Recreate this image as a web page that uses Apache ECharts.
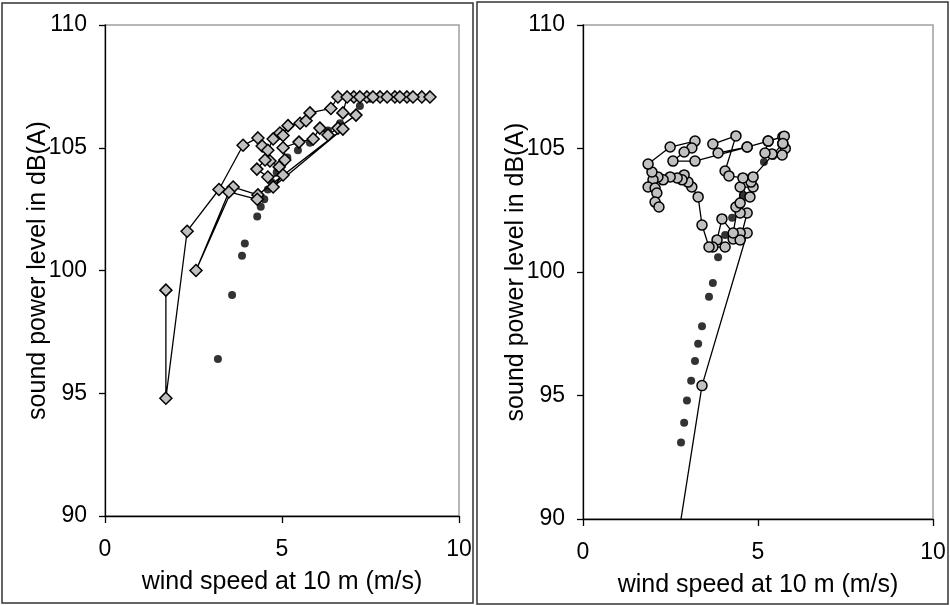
<!DOCTYPE html>
<html>
<head>
<meta charset="utf-8" />
<title>sound power level vs wind speed</title>
<script src="https://cdn.jsdelivr.net/npm/echarts@6/dist/echarts.min.js"></script>
<style>
  body { margin: 0; background: #fff; }
  #main { width: 950px; height: 605px; }
</style>
</head>
<body>
<div id="main"></div>
<script>
// tick labels / axis ranges
var windTicks = [0, 5, 10];
var levelTicks = [90, 95, 100, 105, 110];

// left panel: reference power curve (black dots)
var leftCurveWind  = [3.19, 3.59, 3.87, 3.95, 4.3, 4.4, 4.5, 4.6, 4.7, 4.85, 5.15, 5.45, 5.79, 6.3, 6.64, 7.2, 7.5];
var leftCurveLevel = [96.4, 99.0, 100.6, 101.1, 102.2, 102.6, 102.9, 103.3, 103.6, 104.0, 104.6, 104.9, 105.2, 105.7, 106.0, 106.7, 107.0];

// left panel: measured sequence (grey diamonds)
var leftMeasWind = [1.72, 1.72, 2.32, 3.22, 3.9, 4.32, 4.44, 4.6, 4.75, 4.94, 5.03, 5.17, 5.51, 5.68, 5.79, 6.38, 6.58,
  7.03, 7.4, 7.77, 8.19, 8.53, 8.95, 9.18, 8.7, 8.33, 7.97, 7.57, 7.2, 6.84, 6.72, 7.09, 6.58, 6.3, 6.07, 5.88, 5.48,
  5.03, 5.08, 4.92, 4.66, 4.52, 4.29, 4.6, 5.03, 4.75, 6.72, 4.32, 3.62, 2.57, 3.5, 4.3];
var leftMeasLevel = [99.2, 94.8, 101.6, 103.3, 105.1, 105.4, 105.07, 104.9, 105.36, 105.6, 105.5, 105.9, 106.0, 106.1, 106.42, 106.6, 107.07,
  107.07, 107.07, 107.07, 107.07, 107.07, 107.07, 107.07, 107.07, 107.07, 107.07, 107.07, 107.07, 107.07, 106.42, 106.33, 105.8, 105.52, 105.8, 105.36, 105.23,
  105.0, 104.5, 104.22, 104.46, 104.5, 104.13, 103.81, 103.89, 103.4, 105.76, 103.08, 103.4, 100.0, 103.2, 102.9];

// right panel: reference power curve (black dots)
var rightCurveWind  = [2.8, 2.89, 2.97, 3.09, 3.2, 3.29, 3.4, 3.6, 3.71, 3.86, 4.06, 4.26, 4.4, 4.57, 4.86, 5.17, 5.43];
var rightCurveLevel = [93.1, 93.9, 94.8, 95.6, 96.4, 97.1, 97.8, 99.0, 99.55, 100.6, 101.5, 102.2, 102.7, 103.1, 103.85, 104.45, 104.7];

// right panel: measured sequence (grey circles)
var rightMeasWind = [2.6, 3.4, 4.69, 4.49, 4.29, 4.49, 4.69, 4.49, 4.37, 4.49, 4.77, 4.49, 4.86, 4.8, 4.86, 5.71, 5.78, 5.69, 5.4, 5.2,
  5.29, 5.71, 4.69, 3.86, 3.71, 4.37, 4.06, 4.17, 4.57, 4.29, 3.97, 3.83, 4.06, 3.71, 3.6, 3.4, 3.29, 3.11, 3.0, 2.89,
  2.83, 2.69, 2.49, 2.29, 2.14, 2.0, 1.86, 2.06, 2.11, 2.06, 2.17, 1.97, 1.86, 2.49, 3.2, 3.11, 2.89, 2.57, 3.2, 4.69, 5.29, 5.75, 5.71];
var rightMeasLevel = [88.2, 95.4, 101.58, 101.58, 101.34, 101.3, 102.39, 102.39, 102.63, 102.79, 103.04, 103.44, 103.44, 103.64, 103.85, 105.2, 105.0, 104.74, 104.78, 104.82,
  105.3, 105.47, 105.06, 104.82, 105.18, 105.51, 104.09, 103.89, 103.81, 101.58, 102.15, 101.3, 101.01, 101.01, 101.01, 101.9, 103.04, 103.44, 103.64, 103.93,
  103.73, 103.81, 103.85, 103.73, 103.85, 103.73, 103.44, 103.4, 103.2, 102.83, 102.63, 104.05, 104.37, 105.06, 105.3, 105.02, 104.86, 104.49, 104.49, 105.06, 105.3, 105.5, 105.2];

function zip(xs, ys) {
  var out = [];
  for (var i = 0; i < xs.length; i++) out.push([xs[i], ys[i]]);
  return out;
}

var font = '"Liberation Sans", Arial, sans-serif';

function xAx(i) {
  return {
    gridIndex: i, type: 'value', min: windTicks[0], max: windTicks[windTicks.length - 1], interval: 5,
    name: 'wind speed at 10 m (m/s)', nameLocation: 'middle', nameGap: 54, nameMoveOverlap: false,
    nameTextStyle: { color: '#000', fontSize: 25, fontFamily: font },
    axisLine: { show: true, onZero: false, lineStyle: { color: '#000', width: 1.3 } },
    axisTick: { show: true, length: 7, lineStyle: { color: '#000', width: 1.3 } },
    axisLabel: { color: '#000', fontSize: 23, fontFamily: font, margin: 22 },
    splitLine: { show: false }
  };
}
function yAx(i) {
  return {
    gridIndex: i, type: 'value', min: levelTicks[0], max: levelTicks[levelTicks.length - 1], interval: 5,
    name: 'sound power level in dB(A)', nameLocation: 'middle', nameGap: 54, nameMoveOverlap: false,
    nameTextStyle: { color: '#000', fontSize: 25, fontFamily: font },
    axisLine: { show: true, onZero: false, lineStyle: { color: '#000', width: 1.3 } },
    axisTick: { show: true, length: 6, lineStyle: { color: '#000', width: 1.3 } },
    axisLabel: { color: '#000', fontSize: 23, fontFamily: font, margin: 18 },
    splitLine: { show: false }
  };
}

var chart = echarts.init(document.getElementById('main'));
chart.setOption({
  animation: false,
  backgroundColor: '#fff',
  graphic: [
    { type: 'rect', shape: { x: 2, y: 3, width: 471, height: 600 }, style: { fill: 'none', stroke: '#333', lineWidth: 1.5 }, z: 100 },
    { type: 'rect', shape: { x: 477, y: 2, width: 471, height: 602 }, style: { fill: 'none', stroke: '#333', lineWidth: 1.5 }, z: 100 }
  ],
  grid: [
    { left: 105, top: 25, width: 354, height: 491, show: true, borderColor: '#a0a0a0', borderWidth: 1.5 },
    { left: 583, top: 25, width: 350, height: 494, show: true, borderColor: '#a0a0a0', borderWidth: 1.5 }
  ],
  xAxis: [xAx(0), xAx(1)],
  yAxis: [yAx(0), yAx(1)],
  series: [
    { type: 'scatter', xAxisIndex: 0, yAxisIndex: 0, symbol: 'circle', symbolSize: 8,
      itemStyle: { color: '#000' }, data: zip(leftCurveWind, leftCurveLevel), z: 2 },
    { type: 'line', xAxisIndex: 0, yAxisIndex: 0, symbol: 'diamond', symbolSize: 12, showAllSymbol: true,
      lineStyle: { color: '#000', width: 1.3 },
      itemStyle: { color: '#c0c0c0', borderColor: '#000', borderWidth: 1.5 },
      data: zip(leftMeasWind, leftMeasLevel), z: 3 },
    { type: 'scatter', xAxisIndex: 1, yAxisIndex: 1, symbol: 'circle', symbolSize: 8,
      itemStyle: { color: '#000' }, data: zip(rightCurveWind, rightCurveLevel), z: 2 },
    { type: 'line', xAxisIndex: 1, yAxisIndex: 1, symbol: 'circle', symbolSize: 10, showAllSymbol: true, clip: true,
      lineStyle: { color: '#000', width: 1.3 },
      itemStyle: { color: '#c0c0c0', borderColor: '#000', borderWidth: 1.5 },
      data: zip(rightMeasWind, rightMeasLevel), z: 3 }
  ]
});
</script>
</body>
</html>
